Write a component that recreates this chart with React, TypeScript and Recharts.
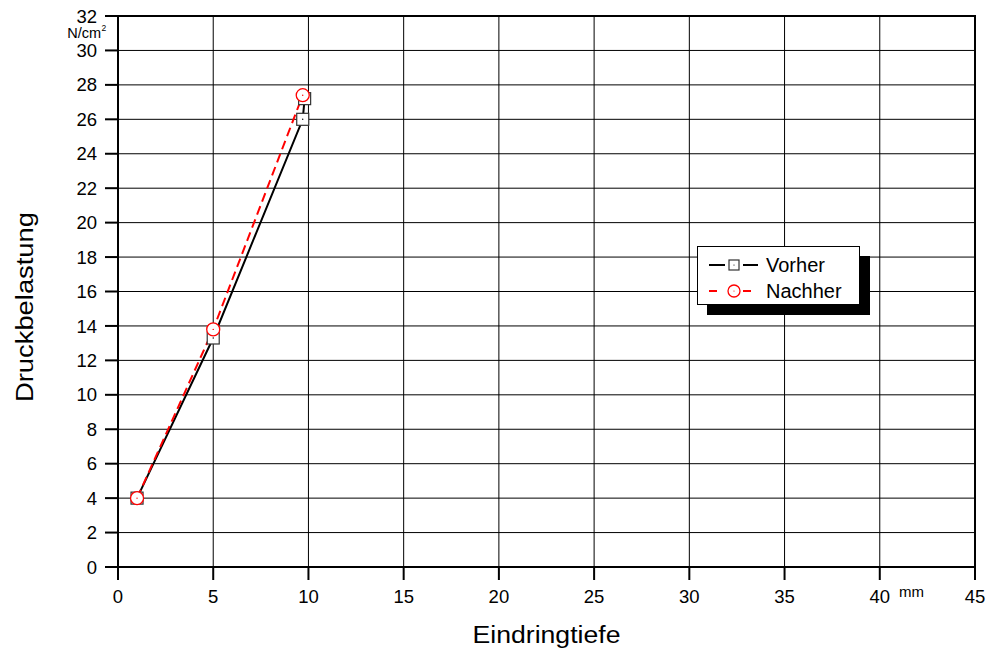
import React from "react";
import {
  CartesianGrid,
  Label,
  Line,
  LineChart,
  ReferenceArea,
  XAxis,
  YAxis,
} from "recharts";

// Eindringtiefe (mm) vs. Druckbelastung (N/cm²)
const vorherX = [1, 5, 9.7, 9.8];
const vorherY = [4, 13.3, 26, 27.2];
const nachherX = [1, 5, 9.7];
const nachherY = [4, 13.8, 27.4];

const xTicks = [0, 5, 10, 15, 20, 25, 30, 35, 40, 45];
const yTicks = [0, 2, 4, 6, 8, 10, 12, 14, 16, 18, 20, 22, 24, 26, 28, 30, 32];

const FONT = "'Liberation Sans', Arial, sans-serif";

const vorher = vorherX.map((x, i) => ({ x, y: vorherY[i] }));
const nachher = nachherX.map((x, i) => ({ x, y: nachherY[i] }));

function SquareDot(props: any) {
  const { cx, cy, index } = props;
  if (cx == null || cy == null) return null;
  return (
    <g key={`sq-${index}`}>
      <rect x={cx - 6} y={cy - 6} width={12} height={12} fill="#fff" stroke="#333" strokeWidth={1.2} />
      <circle cx={cx} cy={cy} r={0.7} fill="#000" />
    </g>
  );
}

function CircleDot(props: any) {
  const { cx, cy, index } = props;
  if (cx == null || cy == null) return null;
  return (
    <g key={`ci-${index}`}>
      <circle cx={cx} cy={cy} r={6.5} fill="#fff" stroke="#ff0000" strokeWidth={1.3} />
      <circle cx={cx} cy={cy} r={0.7} fill="#ff0000" />
    </g>
  );
}

// legend box with the hard black drop shadow
function LegendBox() {
  const label: React.CSSProperties = { position: "absolute", left: 68, lineHeight: "20px" };
  return (
    <div
      style={{
        position: "absolute",
        left: 697,
        top: 246,
        width: 163,
        height: 59,
        background: "#fff",
        border: "1px solid #000",
        boxShadow: "10px 10px 0 #000",
        fontFamily: FONT,
        fontSize: 20,
        color: "#000",
        boxSizing: "border-box",
      }}
    >
      <svg width={66} height={57} style={{ position: "absolute", left: 0, top: 0 }}>
        <line x1={11} y1={18} x2={27} y2={18} stroke="#000" strokeWidth={2} />
        <rect x={31} y={13} width={10} height={10} fill="#fff" stroke="#333" strokeWidth={1.2} />
        <circle cx={36} cy={18} r={0.6} fill="#000" />
        <line x1={45} y1={18} x2={60} y2={18} stroke="#000" strokeWidth={2} />

        <line x1={11} y1={44} x2={19} y2={44} stroke="#ff0000" strokeWidth={2} />
        <circle cx={36} cy={44} r={6} fill="#fff" stroke="#ff0000" strokeWidth={1.3} />
        <circle cx={36} cy={44} r={0.6} fill="#ff0000" />
        <line x1={45} y1={44} x2={53} y2={44} stroke="#ff0000" strokeWidth={2} />
      </svg>
      <span style={{ ...label, top: 8 }}>Vorher</span>
      <span style={{ ...label, top: 34 }}>Nachher</span>
    </div>
  );
}

export default function App() {
  return (
    <div style={{ position: "absolute", left: 0, top: 0, width: 986, height: 649, background: "#fff" }}>
      <LineChart
        width={986}
        height={649}
        margin={{ top: 16, right: 11, bottom: 0, left: 0 }}
        style={{ fontFamily: FONT }}
      >
        <CartesianGrid stroke="#000" strokeWidth={1} horizontalValues={yTicks} verticalValues={xTicks} />
        <XAxis
          type="number"
          dataKey="x"
          domain={[0, 45]}
          ticks={xTicks}
          allowDataOverflow
          height={82}
          tickSize={13}
          tickMargin={10}
          tick={{ fill: "#000", fontSize: 18.5, fontFamily: FONT }}
          tickLine={{ stroke: "#000", strokeWidth: 2 }}
          axisLine={{ stroke: "#000", strokeWidth: 2 }}
        >
          <Label
            content={({ viewBox }: any) => (
              <g>
                <text
                  x={viewBox.x + viewBox.width / 2}
                  y={643}
                  textAnchor="middle"
                  fontSize={23}
                  textLength={148}
                  lengthAdjust="spacingAndGlyphs"
                  fontFamily={FONT}
                  fill="#000"
                >
                  Eindringtiefe
                </text>
                <text x={899} y={597} fontSize={15} fontFamily={FONT} fill="#000">
                  mm
                </text>
              </g>
            )}
          />
        </XAxis>
        <YAxis
          type="number"
          dataKey="y"
          domain={[0, 32]}
          ticks={yTicks}
          allowDataOverflow
          width={118}
          tickSize={13}
          tickMargin={8}
          tick={{ fill: "#000", fontSize: 18.5, fontFamily: FONT }}
          tickLine={{ stroke: "#000", strokeWidth: 2 }}
          axisLine={{ stroke: "#000", strokeWidth: 2 }}
        >
          <Label
            content={() => (
              <g>
                <text
                  x={33}
                  y={307}
                  transform="rotate(-90 33 307)"
                  textAnchor="middle"
                  fontSize={23}
                  textLength={190}
                  lengthAdjust="spacingAndGlyphs"
                  fontFamily={FONT}
                  fill="#000"
                >
                  Druckbelastung
                </text>
                <text x={101} y={38} textAnchor="end" fontSize={14.5} fontFamily={FONT} fill="#000">
                  N/cm
                </text>
                <text x={101.5} y={31} fontSize={8.5} fontFamily={FONT} fill="#000">
                  2
                </text>
              </g>
            )}
          />
        </YAxis>
        <ReferenceArea x1={0} x2={45} y1={0} y2={32} fill="none" stroke="#000" strokeWidth={2} ifOverflow="visible" />
        <Line
          data={vorher}
          dataKey="y"
          name="Vorher"
          type="linear"
          stroke="#000"
          strokeWidth={2}
          dot={<SquareDot />}
          isAnimationActive={false}
        />
        <Line
          data={nachher}
          dataKey="y"
          name="Nachher"
          type="linear"
          stroke="#ff0000"
          strokeWidth={2}
          strokeDasharray="9 5"
          dot={<CircleDot />}
          isAnimationActive={false}
        />
      </LineChart>
      <LegendBox />
    </div>
  );
}
